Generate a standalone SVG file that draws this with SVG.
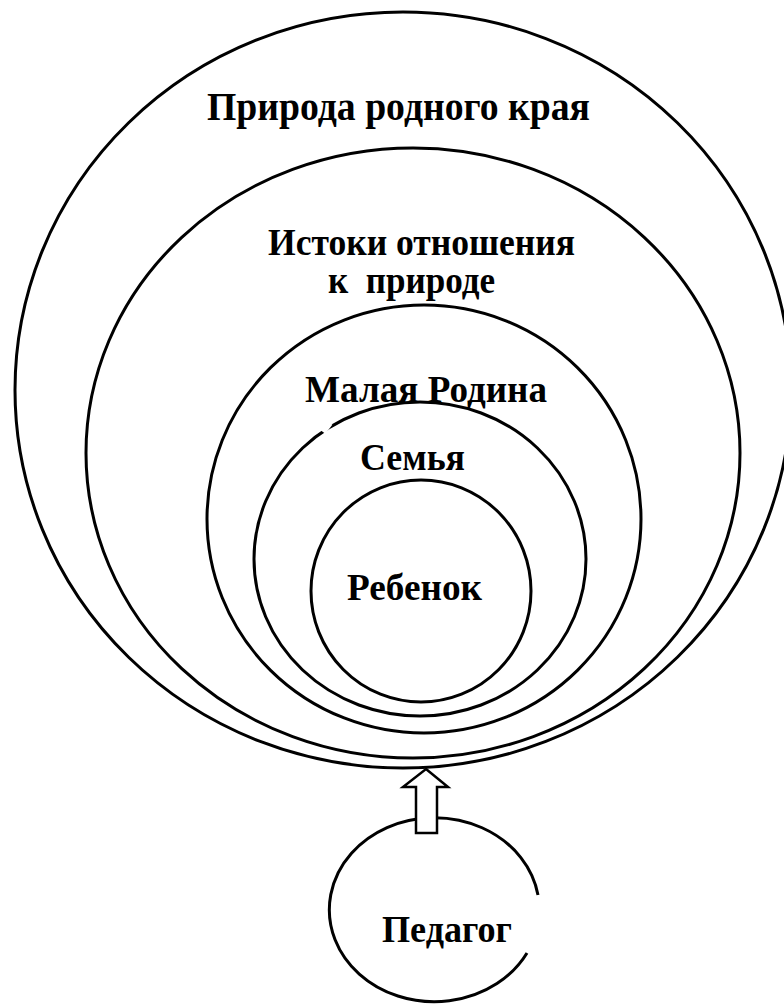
<svg xmlns="http://www.w3.org/2000/svg" width="784" height="1004" viewBox="0 0 784 1004">
<style>
.ring{fill:none;stroke:#000;stroke-width:3}
.lbl{font-family:"Liberation Serif","Times New Roman",serif;font-weight:bold;fill:#000;text-anchor:middle;font-size:37px}
</style>
<rect width="784" height="1004" fill="#fff"/>
<g id="n-priroda">
<ellipse class="ring" cx="403" cy="390" rx="388" ry="378"/>
<text class="lbl" x="398.5" y="120" style="font-size:39px" textLength="383" lengthAdjust="spacingAndGlyphs">Природа родного края</text>
</g>
<g id="n-istoki">
<ellipse class="ring" cx="413" cy="453" rx="327" ry="305"/>
<text class="lbl" x="421.5" y="255" textLength="307" lengthAdjust="spacingAndGlyphs">Истоки отношения</text>
<text class="lbl" x="411.5" y="293" style="white-space:pre" textLength="167" lengthAdjust="spacingAndGlyphs">к  природе</text>
</g>
<g id="n-malaya">
<ellipse class="ring" cx="424" cy="519" rx="217" ry="214"/>
<text class="lbl" x="426" y="402" textLength="242" lengthAdjust="spacingAndGlyphs">Малая Родина</text>
</g>
<g id="n-semya">
<ellipse class="ring" cx="420" cy="559" rx="166" ry="157"/>
<line x1="323" y1="432" x2="330" y2="423" stroke="#fff" stroke-width="6"/>
<text class="lbl" x="412.5" y="470" textLength="105" lengthAdjust="spacingAndGlyphs">Семья</text>
</g>
<g id="n-rebenok">
<ellipse class="ring" cx="421" cy="591" rx="110" ry="111"/>
<text class="lbl" x="414.5" y="600" textLength="135" lengthAdjust="spacingAndGlyphs">Ребенок</text>
</g>
<g id="n-pedagog">
<path class="ring" d="M538 895 A105 92 0 1 0 527 953"/>
<text class="lbl" x="447" y="942" textLength="130" lengthAdjust="spacingAndGlyphs">Педагог</text>
</g>
<g id="connectors">
<polygon points="426,769 448,787 437,787 437,833 416,833 416,787 403,787" fill="#fff" stroke="#000" stroke-width="2.5" stroke-linejoin="miter"/>
</g>
</svg>
